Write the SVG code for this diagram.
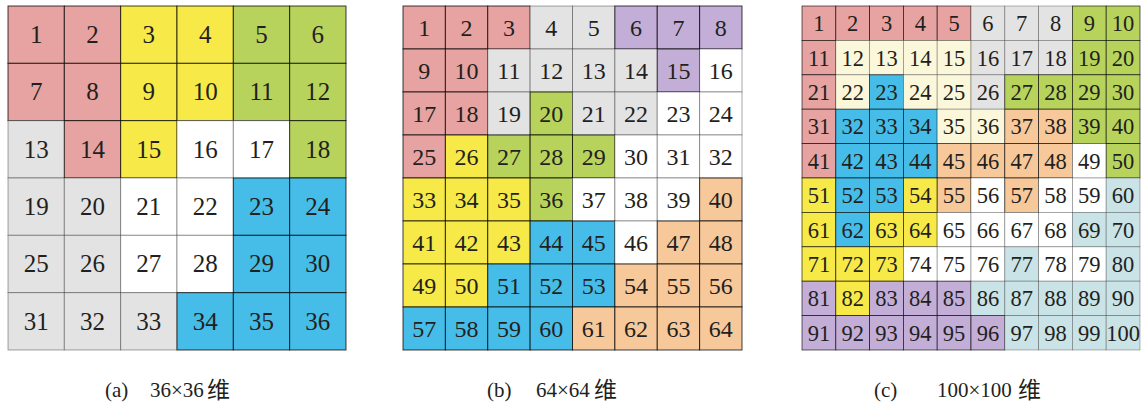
<svg xmlns="http://www.w3.org/2000/svg" width="1145" height="409" viewBox="0 0 1145 409">
<style>
.cell{stroke:#000;stroke-width:1}
.p{fill:#E6A3A1;stroke-opacity:.75}.y{fill:#F7EA48;stroke-opacity:.75}.g{fill:#B8D35C;stroke-opacity:.75}.b{fill:#45BDE8;stroke-opacity:.75}.o{fill:#F7C89A;stroke-opacity:.75}.u{fill:#C2AED6;stroke-opacity:.75}
.k{fill:#E3E3E3;stroke-opacity:.35}.w{fill:#FFFFFF;stroke-opacity:.35}.c{fill:#FBF7DA;stroke-opacity:.35}.t{fill:#C9E3E6;stroke-opacity:.35}
#gc rect{stroke-width:.8}
text{font-family:"Liberation Serif","Times New Roman",serif;fill:#231F20;text-anchor:middle}
#ga text{font-size:25px}#gb text{font-size:24px}#gc text{font-size:22.5px}
.cap{font-size:21px;text-anchor:start}
.cjk{font-family:"Noto Sans CJK SC",sans-serif;font-size:23px;text-anchor:start}
</style>
<rect width="1145" height="409" style="fill:#fff;stroke:none"/>
<g id="ga">
<g id="a1"><rect class="cell p" x="8" y="6" width="56.33" height="57.33"/><text x="36.2" y="43">1</text></g>
<g id="a2"><rect class="cell p" x="64.33" y="6" width="56.33" height="57.33"/><text x="92.5" y="43">2</text></g>
<g id="a3"><rect class="cell y" x="120.67" y="6" width="56.33" height="57.33"/><text x="148.8" y="43">3</text></g>
<g id="a4"><rect class="cell y" x="177" y="6" width="56.33" height="57.33"/><text x="205.2" y="43">4</text></g>
<g id="a5"><rect class="cell g" x="233.33" y="6" width="56.33" height="57.33"/><text x="261.5" y="43">5</text></g>
<g id="a6"><rect class="cell g" x="289.67" y="6" width="56.33" height="57.33"/><text x="317.8" y="43">6</text></g>
<g id="a7"><rect class="cell p" x="8" y="63.33" width="56.33" height="57.33"/><text x="36.2" y="100.3">7</text></g>
<g id="a8"><rect class="cell p" x="64.33" y="63.33" width="56.33" height="57.33"/><text x="92.5" y="100.3">8</text></g>
<g id="a9"><rect class="cell y" x="120.67" y="63.33" width="56.33" height="57.33"/><text x="148.8" y="100.3">9</text></g>
<g id="a10"><rect class="cell y" x="177" y="63.33" width="56.33" height="57.33"/><text x="205.2" y="100.3">10</text></g>
<g id="a11"><rect class="cell g" x="233.33" y="63.33" width="56.33" height="57.33"/><text x="261.5" y="100.3">11</text></g>
<g id="a12"><rect class="cell g" x="289.67" y="63.33" width="56.33" height="57.33"/><text x="317.8" y="100.3">12</text></g>
<g id="a13"><rect class="cell k" x="8" y="120.67" width="56.33" height="57.33"/><text x="36.2" y="157.6">13</text></g>
<g id="a14"><rect class="cell p" x="64.33" y="120.67" width="56.33" height="57.33"/><text x="92.5" y="157.6">14</text></g>
<g id="a15"><rect class="cell y" x="120.67" y="120.67" width="56.33" height="57.33"/><text x="148.8" y="157.6">15</text></g>
<g id="a16"><rect class="cell w" x="177" y="120.67" width="56.33" height="57.33"/><text x="205.2" y="157.6">16</text></g>
<g id="a17"><rect class="cell w" x="233.33" y="120.67" width="56.33" height="57.33"/><text x="261.5" y="157.6">17</text></g>
<g id="a18"><rect class="cell g" x="289.67" y="120.67" width="56.33" height="57.33"/><text x="317.8" y="157.6">18</text></g>
<g id="a19"><rect class="cell k" x="8" y="178" width="56.33" height="57.33"/><text x="36.2" y="215">19</text></g>
<g id="a20"><rect class="cell k" x="64.33" y="178" width="56.33" height="57.33"/><text x="92.5" y="215">20</text></g>
<g id="a21"><rect class="cell w" x="120.67" y="178" width="56.33" height="57.33"/><text x="148.8" y="215">21</text></g>
<g id="a22"><rect class="cell w" x="177" y="178" width="56.33" height="57.33"/><text x="205.2" y="215">22</text></g>
<g id="a23"><rect class="cell b" x="233.33" y="178" width="56.33" height="57.33"/><text x="261.5" y="215">23</text></g>
<g id="a24"><rect class="cell b" x="289.67" y="178" width="56.33" height="57.33"/><text x="317.8" y="215">24</text></g>
<g id="a25"><rect class="cell k" x="8" y="235.33" width="56.33" height="57.33"/><text x="36.2" y="272.3">25</text></g>
<g id="a26"><rect class="cell k" x="64.33" y="235.33" width="56.33" height="57.33"/><text x="92.5" y="272.3">26</text></g>
<g id="a27"><rect class="cell w" x="120.67" y="235.33" width="56.33" height="57.33"/><text x="148.8" y="272.3">27</text></g>
<g id="a28"><rect class="cell w" x="177" y="235.33" width="56.33" height="57.33"/><text x="205.2" y="272.3">28</text></g>
<g id="a29"><rect class="cell b" x="233.33" y="235.33" width="56.33" height="57.33"/><text x="261.5" y="272.3">29</text></g>
<g id="a30"><rect class="cell b" x="289.67" y="235.33" width="56.33" height="57.33"/><text x="317.8" y="272.3">30</text></g>
<g id="a31"><rect class="cell k" x="8" y="292.67" width="56.33" height="57.33"/><text x="36.2" y="329.6">31</text></g>
<g id="a32"><rect class="cell k" x="64.33" y="292.67" width="56.33" height="57.33"/><text x="92.5" y="329.6">32</text></g>
<g id="a33"><rect class="cell k" x="120.67" y="292.67" width="56.33" height="57.33"/><text x="148.8" y="329.6">33</text></g>
<g id="a34"><rect class="cell b" x="177" y="292.67" width="56.33" height="57.33"/><text x="205.2" y="329.6">34</text></g>
<g id="a35"><rect class="cell b" x="233.33" y="292.67" width="56.33" height="57.33"/><text x="261.5" y="329.6">35</text></g>
<g id="a36"><rect class="cell b" x="289.67" y="292.67" width="56.33" height="57.33"/><text x="317.8" y="329.6">36</text></g>
</g>
<g id="gb">
<g id="b1"><rect class="cell p" x="403" y="6" width="42.38" height="43"/><text x="424.2" y="36.3">1</text></g>
<g id="b2"><rect class="cell p" x="445.38" y="6" width="42.38" height="43"/><text x="466.6" y="36.3">2</text></g>
<g id="b3"><rect class="cell p" x="487.75" y="6" width="42.38" height="43"/><text x="508.9" y="36.3">3</text></g>
<g id="b4"><rect class="cell k" x="530.13" y="6" width="42.38" height="43"/><text x="551.3" y="36.3">4</text></g>
<g id="b5"><rect class="cell k" x="572.5" y="6" width="42.38" height="43"/><text x="593.7" y="36.3">5</text></g>
<g id="b6"><rect class="cell u" x="614.88" y="6" width="42.38" height="43"/><text x="636.1" y="36.3">6</text></g>
<g id="b7"><rect class="cell u" x="657.25" y="6" width="42.38" height="43"/><text x="678.4" y="36.3">7</text></g>
<g id="b8"><rect class="cell u" x="699.63" y="6" width="42.38" height="43"/><text x="720.8" y="36.3">8</text></g>
<g id="b9"><rect class="cell p" x="403" y="49" width="42.38" height="43"/><text x="424.2" y="79.3">9</text></g>
<g id="b10"><rect class="cell p" x="445.38" y="49" width="42.38" height="43"/><text x="466.6" y="79.3">10</text></g>
<g id="b11"><rect class="cell k" x="487.75" y="49" width="42.38" height="43"/><text x="508.9" y="79.3">11</text></g>
<g id="b12"><rect class="cell k" x="530.13" y="49" width="42.38" height="43"/><text x="551.3" y="79.3">12</text></g>
<g id="b13"><rect class="cell k" x="572.5" y="49" width="42.38" height="43"/><text x="593.7" y="79.3">13</text></g>
<g id="b14"><rect class="cell k" x="614.88" y="49" width="42.38" height="43"/><text x="636.1" y="79.3">14</text></g>
<g id="b15"><rect class="cell u" x="657.25" y="49" width="42.38" height="43"/><text x="678.4" y="79.3">15</text></g>
<g id="b16"><rect class="cell w" x="699.63" y="49" width="42.38" height="43"/><text x="720.8" y="79.3">16</text></g>
<g id="b17"><rect class="cell p" x="403" y="92" width="42.38" height="43"/><text x="424.2" y="122.3">17</text></g>
<g id="b18"><rect class="cell p" x="445.38" y="92" width="42.38" height="43"/><text x="466.6" y="122.3">18</text></g>
<g id="b19"><rect class="cell k" x="487.75" y="92" width="42.38" height="43"/><text x="508.9" y="122.3">19</text></g>
<g id="b20"><rect class="cell g" x="530.13" y="92" width="42.38" height="43"/><text x="551.3" y="122.3">20</text></g>
<g id="b21"><rect class="cell k" x="572.5" y="92" width="42.38" height="43"/><text x="593.7" y="122.3">21</text></g>
<g id="b22"><rect class="cell k" x="614.88" y="92" width="42.38" height="43"/><text x="636.1" y="122.3">22</text></g>
<g id="b23"><rect class="cell w" x="657.25" y="92" width="42.38" height="43"/><text x="678.4" y="122.3">23</text></g>
<g id="b24"><rect class="cell w" x="699.63" y="92" width="42.38" height="43"/><text x="720.8" y="122.3">24</text></g>
<g id="b25"><rect class="cell p" x="403" y="135" width="42.38" height="43"/><text x="424.2" y="165.3">25</text></g>
<g id="b26"><rect class="cell y" x="445.38" y="135" width="42.38" height="43"/><text x="466.6" y="165.3">26</text></g>
<g id="b27"><rect class="cell g" x="487.75" y="135" width="42.38" height="43"/><text x="508.9" y="165.3">27</text></g>
<g id="b28"><rect class="cell g" x="530.13" y="135" width="42.38" height="43"/><text x="551.3" y="165.3">28</text></g>
<g id="b29"><rect class="cell g" x="572.5" y="135" width="42.38" height="43"/><text x="593.7" y="165.3">29</text></g>
<g id="b30"><rect class="cell w" x="614.88" y="135" width="42.38" height="43"/><text x="636.1" y="165.3">30</text></g>
<g id="b31"><rect class="cell w" x="657.25" y="135" width="42.38" height="43"/><text x="678.4" y="165.3">31</text></g>
<g id="b32"><rect class="cell w" x="699.63" y="135" width="42.38" height="43"/><text x="720.8" y="165.3">32</text></g>
<g id="b33"><rect class="cell y" x="403" y="178" width="42.38" height="43"/><text x="424.2" y="208.3">33</text></g>
<g id="b34"><rect class="cell y" x="445.38" y="178" width="42.38" height="43"/><text x="466.6" y="208.3">34</text></g>
<g id="b35"><rect class="cell y" x="487.75" y="178" width="42.38" height="43"/><text x="508.9" y="208.3">35</text></g>
<g id="b36"><rect class="cell g" x="530.13" y="178" width="42.38" height="43"/><text x="551.3" y="208.3">36</text></g>
<g id="b37"><rect class="cell w" x="572.5" y="178" width="42.38" height="43"/><text x="593.7" y="208.3">37</text></g>
<g id="b38"><rect class="cell w" x="614.88" y="178" width="42.38" height="43"/><text x="636.1" y="208.3">38</text></g>
<g id="b39"><rect class="cell w" x="657.25" y="178" width="42.38" height="43"/><text x="678.4" y="208.3">39</text></g>
<g id="b40"><rect class="cell o" x="699.63" y="178" width="42.38" height="43"/><text x="720.8" y="208.3">40</text></g>
<g id="b41"><rect class="cell y" x="403" y="221" width="42.38" height="43"/><text x="424.2" y="251.3">41</text></g>
<g id="b42"><rect class="cell y" x="445.38" y="221" width="42.38" height="43"/><text x="466.6" y="251.3">42</text></g>
<g id="b43"><rect class="cell y" x="487.75" y="221" width="42.38" height="43"/><text x="508.9" y="251.3">43</text></g>
<g id="b44"><rect class="cell b" x="530.13" y="221" width="42.38" height="43"/><text x="551.3" y="251.3">44</text></g>
<g id="b45"><rect class="cell b" x="572.5" y="221" width="42.38" height="43"/><text x="593.7" y="251.3">45</text></g>
<g id="b46"><rect class="cell w" x="614.88" y="221" width="42.38" height="43"/><text x="636.1" y="251.3">46</text></g>
<g id="b47"><rect class="cell o" x="657.25" y="221" width="42.38" height="43"/><text x="678.4" y="251.3">47</text></g>
<g id="b48"><rect class="cell o" x="699.63" y="221" width="42.38" height="43"/><text x="720.8" y="251.3">48</text></g>
<g id="b49"><rect class="cell y" x="403" y="264" width="42.38" height="43"/><text x="424.2" y="294.3">49</text></g>
<g id="b50"><rect class="cell y" x="445.38" y="264" width="42.38" height="43"/><text x="466.6" y="294.3">50</text></g>
<g id="b51"><rect class="cell b" x="487.75" y="264" width="42.38" height="43"/><text x="508.9" y="294.3">51</text></g>
<g id="b52"><rect class="cell b" x="530.13" y="264" width="42.38" height="43"/><text x="551.3" y="294.3">52</text></g>
<g id="b53"><rect class="cell b" x="572.5" y="264" width="42.38" height="43"/><text x="593.7" y="294.3">53</text></g>
<g id="b54"><rect class="cell o" x="614.88" y="264" width="42.38" height="43"/><text x="636.1" y="294.3">54</text></g>
<g id="b55"><rect class="cell o" x="657.25" y="264" width="42.38" height="43"/><text x="678.4" y="294.3">55</text></g>
<g id="b56"><rect class="cell o" x="699.63" y="264" width="42.38" height="43"/><text x="720.8" y="294.3">56</text></g>
<g id="b57"><rect class="cell b" x="403" y="307" width="42.38" height="43"/><text x="424.2" y="337.3">57</text></g>
<g id="b58"><rect class="cell b" x="445.38" y="307" width="42.38" height="43"/><text x="466.6" y="337.3">58</text></g>
<g id="b59"><rect class="cell b" x="487.75" y="307" width="42.38" height="43"/><text x="508.9" y="337.3">59</text></g>
<g id="b60"><rect class="cell b" x="530.13" y="307" width="42.38" height="43"/><text x="551.3" y="337.3">60</text></g>
<g id="b61"><rect class="cell o" x="572.5" y="307" width="42.38" height="43"/><text x="593.7" y="337.3">61</text></g>
<g id="b62"><rect class="cell o" x="614.88" y="307" width="42.38" height="43"/><text x="636.1" y="337.3">62</text></g>
<g id="b63"><rect class="cell o" x="657.25" y="307" width="42.38" height="43"/><text x="678.4" y="337.3">63</text></g>
<g id="b64"><rect class="cell o" x="699.63" y="307" width="42.38" height="43"/><text x="720.8" y="337.3">64</text></g>
</g>
<g id="gc">
<g id="c1"><rect class="cell p" x="802" y="6" width="33.8" height="34.4"/><text x="818.9" y="31.2">1</text></g>
<g id="c2"><rect class="cell p" x="835.8" y="6" width="33.8" height="34.4"/><text x="852.7" y="31.2">2</text></g>
<g id="c3"><rect class="cell p" x="869.6" y="6" width="33.8" height="34.4"/><text x="886.5" y="31.2">3</text></g>
<g id="c4"><rect class="cell p" x="903.4" y="6" width="33.8" height="34.4"/><text x="920.3" y="31.2">4</text></g>
<g id="c5"><rect class="cell p" x="937.2" y="6" width="33.8" height="34.4"/><text x="954.1" y="31.2">5</text></g>
<g id="c6"><rect class="cell k" x="971" y="6" width="33.8" height="34.4"/><text x="987.9" y="31.2">6</text></g>
<g id="c7"><rect class="cell k" x="1004.8" y="6" width="33.8" height="34.4"/><text x="1021.7" y="31.2">7</text></g>
<g id="c8"><rect class="cell k" x="1038.6" y="6" width="33.8" height="34.4"/><text x="1055.5" y="31.2">8</text></g>
<g id="c9"><rect class="cell g" x="1072.4" y="6" width="33.8" height="34.4"/><text x="1089.3" y="31.2">9</text></g>
<g id="c10"><rect class="cell g" x="1106.2" y="6" width="33.8" height="34.4"/><text x="1123.1" y="31.2">10</text></g>
<g id="c11"><rect class="cell p" x="802" y="40.4" width="33.8" height="34.4"/><text x="818.9" y="65.6">11</text></g>
<g id="c12"><rect class="cell c" x="835.8" y="40.4" width="33.8" height="34.4"/><text x="852.7" y="65.6">12</text></g>
<g id="c13"><rect class="cell c" x="869.6" y="40.4" width="33.8" height="34.4"/><text x="886.5" y="65.6">13</text></g>
<g id="c14"><rect class="cell c" x="903.4" y="40.4" width="33.8" height="34.4"/><text x="920.3" y="65.6">14</text></g>
<g id="c15"><rect class="cell c" x="937.2" y="40.4" width="33.8" height="34.4"/><text x="954.1" y="65.6">15</text></g>
<g id="c16"><rect class="cell k" x="971" y="40.4" width="33.8" height="34.4"/><text x="987.9" y="65.6">16</text></g>
<g id="c17"><rect class="cell k" x="1004.8" y="40.4" width="33.8" height="34.4"/><text x="1021.7" y="65.6">17</text></g>
<g id="c18"><rect class="cell k" x="1038.6" y="40.4" width="33.8" height="34.4"/><text x="1055.5" y="65.6">18</text></g>
<g id="c19"><rect class="cell g" x="1072.4" y="40.4" width="33.8" height="34.4"/><text x="1089.3" y="65.6">19</text></g>
<g id="c20"><rect class="cell g" x="1106.2" y="40.4" width="33.8" height="34.4"/><text x="1123.1" y="65.6">20</text></g>
<g id="c21"><rect class="cell p" x="802" y="74.8" width="33.8" height="34.4"/><text x="818.9" y="100">21</text></g>
<g id="c22"><rect class="cell c" x="835.8" y="74.8" width="33.8" height="34.4"/><text x="852.7" y="100">22</text></g>
<g id="c23"><rect class="cell b" x="869.6" y="74.8" width="33.8" height="34.4"/><text x="886.5" y="100">23</text></g>
<g id="c24"><rect class="cell c" x="903.4" y="74.8" width="33.8" height="34.4"/><text x="920.3" y="100">24</text></g>
<g id="c25"><rect class="cell c" x="937.2" y="74.8" width="33.8" height="34.4"/><text x="954.1" y="100">25</text></g>
<g id="c26"><rect class="cell k" x="971" y="74.8" width="33.8" height="34.4"/><text x="987.9" y="100">26</text></g>
<g id="c27"><rect class="cell g" x="1004.8" y="74.8" width="33.8" height="34.4"/><text x="1021.7" y="100">27</text></g>
<g id="c28"><rect class="cell g" x="1038.6" y="74.8" width="33.8" height="34.4"/><text x="1055.5" y="100">28</text></g>
<g id="c29"><rect class="cell g" x="1072.4" y="74.8" width="33.8" height="34.4"/><text x="1089.3" y="100">29</text></g>
<g id="c30"><rect class="cell g" x="1106.2" y="74.8" width="33.8" height="34.4"/><text x="1123.1" y="100">30</text></g>
<g id="c31"><rect class="cell p" x="802" y="109.2" width="33.8" height="34.4"/><text x="818.9" y="134.4">31</text></g>
<g id="c32"><rect class="cell b" x="835.8" y="109.2" width="33.8" height="34.4"/><text x="852.7" y="134.4">32</text></g>
<g id="c33"><rect class="cell b" x="869.6" y="109.2" width="33.8" height="34.4"/><text x="886.5" y="134.4">33</text></g>
<g id="c34"><rect class="cell b" x="903.4" y="109.2" width="33.8" height="34.4"/><text x="920.3" y="134.4">34</text></g>
<g id="c35"><rect class="cell c" x="937.2" y="109.2" width="33.8" height="34.4"/><text x="954.1" y="134.4">35</text></g>
<g id="c36"><rect class="cell c" x="971" y="109.2" width="33.8" height="34.4"/><text x="987.9" y="134.4">36</text></g>
<g id="c37"><rect class="cell o" x="1004.8" y="109.2" width="33.8" height="34.4"/><text x="1021.7" y="134.4">37</text></g>
<g id="c38"><rect class="cell o" x="1038.6" y="109.2" width="33.8" height="34.4"/><text x="1055.5" y="134.4">38</text></g>
<g id="c39"><rect class="cell g" x="1072.4" y="109.2" width="33.8" height="34.4"/><text x="1089.3" y="134.4">39</text></g>
<g id="c40"><rect class="cell g" x="1106.2" y="109.2" width="33.8" height="34.4"/><text x="1123.1" y="134.4">40</text></g>
<g id="c41"><rect class="cell p" x="802" y="143.6" width="33.8" height="34.4"/><text x="818.9" y="168.8">41</text></g>
<g id="c42"><rect class="cell b" x="835.8" y="143.6" width="33.8" height="34.4"/><text x="852.7" y="168.8">42</text></g>
<g id="c43"><rect class="cell b" x="869.6" y="143.6" width="33.8" height="34.4"/><text x="886.5" y="168.8">43</text></g>
<g id="c44"><rect class="cell b" x="903.4" y="143.6" width="33.8" height="34.4"/><text x="920.3" y="168.8">44</text></g>
<g id="c45"><rect class="cell o" x="937.2" y="143.6" width="33.8" height="34.4"/><text x="954.1" y="168.8">45</text></g>
<g id="c46"><rect class="cell o" x="971" y="143.6" width="33.8" height="34.4"/><text x="987.9" y="168.8">46</text></g>
<g id="c47"><rect class="cell o" x="1004.8" y="143.6" width="33.8" height="34.4"/><text x="1021.7" y="168.8">47</text></g>
<g id="c48"><rect class="cell o" x="1038.6" y="143.6" width="33.8" height="34.4"/><text x="1055.5" y="168.8">48</text></g>
<g id="c49"><rect class="cell w" x="1072.4" y="143.6" width="33.8" height="34.4"/><text x="1089.3" y="168.8">49</text></g>
<g id="c50"><rect class="cell g" x="1106.2" y="143.6" width="33.8" height="34.4"/><text x="1123.1" y="168.8">50</text></g>
<g id="c51"><rect class="cell y" x="802" y="178" width="33.8" height="34.4"/><text x="818.9" y="203.2">51</text></g>
<g id="c52"><rect class="cell b" x="835.8" y="178" width="33.8" height="34.4"/><text x="852.7" y="203.2">52</text></g>
<g id="c53"><rect class="cell b" x="869.6" y="178" width="33.8" height="34.4"/><text x="886.5" y="203.2">53</text></g>
<g id="c54"><rect class="cell y" x="903.4" y="178" width="33.8" height="34.4"/><text x="920.3" y="203.2">54</text></g>
<g id="c55"><rect class="cell o" x="937.2" y="178" width="33.8" height="34.4"/><text x="954.1" y="203.2">55</text></g>
<g id="c56"><rect class="cell w" x="971" y="178" width="33.8" height="34.4"/><text x="987.9" y="203.2">56</text></g>
<g id="c57"><rect class="cell o" x="1004.8" y="178" width="33.8" height="34.4"/><text x="1021.7" y="203.2">57</text></g>
<g id="c58"><rect class="cell w" x="1038.6" y="178" width="33.8" height="34.4"/><text x="1055.5" y="203.2">58</text></g>
<g id="c59"><rect class="cell w" x="1072.4" y="178" width="33.8" height="34.4"/><text x="1089.3" y="203.2">59</text></g>
<g id="c60"><rect class="cell t" x="1106.2" y="178" width="33.8" height="34.4"/><text x="1123.1" y="203.2">60</text></g>
<g id="c61"><rect class="cell y" x="802" y="212.4" width="33.8" height="34.4"/><text x="818.9" y="237.6">61</text></g>
<g id="c62"><rect class="cell b" x="835.8" y="212.4" width="33.8" height="34.4"/><text x="852.7" y="237.6">62</text></g>
<g id="c63"><rect class="cell y" x="869.6" y="212.4" width="33.8" height="34.4"/><text x="886.5" y="237.6">63</text></g>
<g id="c64"><rect class="cell y" x="903.4" y="212.4" width="33.8" height="34.4"/><text x="920.3" y="237.6">64</text></g>
<g id="c65"><rect class="cell w" x="937.2" y="212.4" width="33.8" height="34.4"/><text x="954.1" y="237.6">65</text></g>
<g id="c66"><rect class="cell w" x="971" y="212.4" width="33.8" height="34.4"/><text x="987.9" y="237.6">66</text></g>
<g id="c67"><rect class="cell w" x="1004.8" y="212.4" width="33.8" height="34.4"/><text x="1021.7" y="237.6">67</text></g>
<g id="c68"><rect class="cell w" x="1038.6" y="212.4" width="33.8" height="34.4"/><text x="1055.5" y="237.6">68</text></g>
<g id="c69"><rect class="cell t" x="1072.4" y="212.4" width="33.8" height="34.4"/><text x="1089.3" y="237.6">69</text></g>
<g id="c70"><rect class="cell t" x="1106.2" y="212.4" width="33.8" height="34.4"/><text x="1123.1" y="237.6">70</text></g>
<g id="c71"><rect class="cell y" x="802" y="246.8" width="33.8" height="34.4"/><text x="818.9" y="272">71</text></g>
<g id="c72"><rect class="cell y" x="835.8" y="246.8" width="33.8" height="34.4"/><text x="852.7" y="272">72</text></g>
<g id="c73"><rect class="cell y" x="869.6" y="246.8" width="33.8" height="34.4"/><text x="886.5" y="272">73</text></g>
<g id="c74"><rect class="cell w" x="903.4" y="246.8" width="33.8" height="34.4"/><text x="920.3" y="272">74</text></g>
<g id="c75"><rect class="cell w" x="937.2" y="246.8" width="33.8" height="34.4"/><text x="954.1" y="272">75</text></g>
<g id="c76"><rect class="cell w" x="971" y="246.8" width="33.8" height="34.4"/><text x="987.9" y="272">76</text></g>
<g id="c77"><rect class="cell t" x="1004.8" y="246.8" width="33.8" height="34.4"/><text x="1021.7" y="272">77</text></g>
<g id="c78"><rect class="cell w" x="1038.6" y="246.8" width="33.8" height="34.4"/><text x="1055.5" y="272">78</text></g>
<g id="c79"><rect class="cell w" x="1072.4" y="246.8" width="33.8" height="34.4"/><text x="1089.3" y="272">79</text></g>
<g id="c80"><rect class="cell t" x="1106.2" y="246.8" width="33.8" height="34.4"/><text x="1123.1" y="272">80</text></g>
<g id="c81"><rect class="cell u" x="802" y="281.2" width="33.8" height="34.4"/><text x="818.9" y="306.4">81</text></g>
<g id="c82"><rect class="cell y" x="835.8" y="281.2" width="33.8" height="34.4"/><text x="852.7" y="306.4">82</text></g>
<g id="c83"><rect class="cell u" x="869.6" y="281.2" width="33.8" height="34.4"/><text x="886.5" y="306.4">83</text></g>
<g id="c84"><rect class="cell u" x="903.4" y="281.2" width="33.8" height="34.4"/><text x="920.3" y="306.4">84</text></g>
<g id="c85"><rect class="cell u" x="937.2" y="281.2" width="33.8" height="34.4"/><text x="954.1" y="306.4">85</text></g>
<g id="c86"><rect class="cell t" x="971" y="281.2" width="33.8" height="34.4"/><text x="987.9" y="306.4">86</text></g>
<g id="c87"><rect class="cell t" x="1004.8" y="281.2" width="33.8" height="34.4"/><text x="1021.7" y="306.4">87</text></g>
<g id="c88"><rect class="cell t" x="1038.6" y="281.2" width="33.8" height="34.4"/><text x="1055.5" y="306.4">88</text></g>
<g id="c89"><rect class="cell t" x="1072.4" y="281.2" width="33.8" height="34.4"/><text x="1089.3" y="306.4">89</text></g>
<g id="c90"><rect class="cell t" x="1106.2" y="281.2" width="33.8" height="34.4"/><text x="1123.1" y="306.4">90</text></g>
<g id="c91"><rect class="cell u" x="802" y="315.6" width="33.8" height="34.4"/><text x="818.9" y="340.8">91</text></g>
<g id="c92"><rect class="cell u" x="835.8" y="315.6" width="33.8" height="34.4"/><text x="852.7" y="340.8">92</text></g>
<g id="c93"><rect class="cell u" x="869.6" y="315.6" width="33.8" height="34.4"/><text x="886.5" y="340.8">93</text></g>
<g id="c94"><rect class="cell u" x="903.4" y="315.6" width="33.8" height="34.4"/><text x="920.3" y="340.8">94</text></g>
<g id="c95"><rect class="cell u" x="937.2" y="315.6" width="33.8" height="34.4"/><text x="954.1" y="340.8">95</text></g>
<g id="c96"><rect class="cell u" x="971" y="315.6" width="33.8" height="34.4"/><text x="987.9" y="340.8">96</text></g>
<g id="c97"><rect class="cell t" x="1004.8" y="315.6" width="33.8" height="34.4"/><text x="1021.7" y="340.8">97</text></g>
<g id="c98"><rect class="cell t" x="1038.6" y="315.6" width="33.8" height="34.4"/><text x="1055.5" y="340.8">98</text></g>
<g id="c99"><rect class="cell t" x="1072.4" y="315.6" width="33.8" height="34.4"/><text x="1089.3" y="340.8">99</text></g>
<g id="c100"><rect class="cell t" x="1106.2" y="315.6" width="33.8" height="34.4"/><text x="1123.1" y="340.8">100</text></g>
</g>
<g id="captions">
<text class="cap" x="105" y="397">(a)</text><text class="cap" x="150" y="397">36×36</text><text class="cjk" x="207" y="398">维</text>
<text class="cap" x="487" y="397">(b)</text><text class="cap" x="536" y="397">64×64</text><text class="cjk" x="594" y="398">维</text>
<text class="cap" x="874" y="397">(c)</text><text class="cap" x="937" y="397">100×100</text><text class="cjk" x="1018" y="398">维</text>
</g>
</svg>
